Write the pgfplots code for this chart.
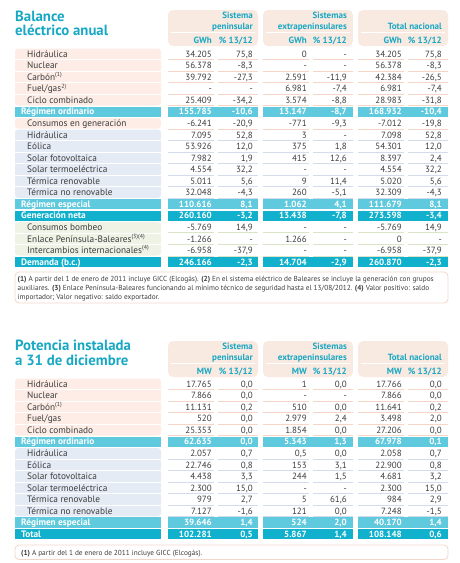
\documentclass[border=0pt]{standalone}
\usepackage{pgfplots}
\pgfplotsset{compat=1.18}
\usepackage{fontspec}
\setmainfont{PT Sans}
\definecolor{teal}{RGB}{24,168,196}
\definecolor{lightband}{RGB}{95,201,222}
\definecolor{darkband}{RGB}{17,177,205}
\definecolor{hdrbg}{RGB}{248,233,225}
\definecolor{pinkbg}{RGB}{253,237,230}
\definecolor{bluebg}{RGB}{229,235,245}
\definecolor{greenbg}{RGB}{239,243,230}
\definecolor{pinkln}{RGB}{246,212,198}
\definecolor{blueln}{RGB}{210,220,236}
\definecolor{greenln}{RGB}{218,228,198}
\definecolor{txt}{RGB}{60,60,60}
\definecolor{fnbd}{RGB}{242,214,200}
\newcommand{\fs}{\fontsize{9}{10.8}\selectfont}
\newcommand{\fl}{\fontsize{9.3}{11}\selectfont}
\newcommand{\supr}[1]{\textsuperscript{\fontsize{6}{6}\selectfont #1}}
\tikzset{
 lab/.style={anchor=base west, inner sep=0, font=\fl, text=txt},
 num/.style={anchor=base east, inner sep=0, font=\fs, text=txt},
 blab/.style={anchor=base west, inner sep=0, font=\fl\bfseries, text=white},
 bnum/.style={anchor=base east, inner sep=0, font=\fs\bfseries, text=white},
 hd/.style={anchor=base east, inner sep=0, font=\fs\bfseries, text=teal},
 ttl/.style={anchor=base west, inner sep=0, font=\fontsize{14.8}{15}\selectfont\bfseries, text=teal},
 fn/.style={anchor=base west, inner sep=0, font=\fontsize{7.3}{8}\selectfont, text=txt},
}
% data row: y, label, six values, line colour
\newcommand{\drow}[9]{%
 \draw[#9, line width=0.8pt] (168,#1+5.6) -- (214,#1+5.6) (218,#1+5.6) -- (258,#1+5.6)
   (263,#1+5.6) -- (309,#1+5.6) (313,#1+5.6) -- (353,#1+5.6)
   (358,#1+5.6) -- (404,#1+5.6) (408,#1+5.6) -- (448,#1+5.6);
 \node[lab] at (27,#1+3.2) {#2};
 \node[num] at (212,#1+3.2) {#3};
 \node[num] at (253,#1+3.2) {#4};
 \node[num] at (307,#1+3.2) {#5};
 \node[num] at (347,#1+3.2) {#6};
 \node[num] at (402,#1+3.2) {#7};
 \node[num] at (442,#1+3.2) {#8};
}
% band row: y, label, six values, fill colour
\newcommand{\brow}[9]{%
 \fill[#9] (15,#1-5.2) rectangle (161,#1+5.2);
 \fill[#9] (168,#1-5.2) rectangle (258,#1+5.2);
 \fill[#9] (263,#1-5.2) rectangle (353,#1+5.2);
 \fill[#9] (358,#1-5.2) rectangle (448,#1+5.2);
 \node[blab] at (21,#1+3.2) {#2};
 \node[bnum] at (212,#1+3.2) {#3};
 \node[bnum] at (253,#1+3.2) {#4};
 \node[bnum] at (307,#1+3.2) {#5};
 \node[bnum] at (347,#1+3.2) {#6};
 \node[bnum] at (402,#1+3.2) {#7};
 \node[bnum] at (442,#1+3.2) {#8};
}
% header: top y, unit
\newcommand{\hdr}[2]{%
 \fill[hdrbg, rounded corners=5pt] (168,#1) rectangle (258,#1+36);
 \fill[hdrbg, rounded corners=5pt] (263,#1) rectangle (353,#1+36);
 \fill[hdrbg, rounded corners=5pt] (358,#1) rectangle (448,#1+36);
 \draw[white, line width=0.8pt] (171,#1+22.5) -- (255,#1+22.5) (266,#1+22.5) -- (350,#1+22.5) (361,#1+22.5) -- (445,#1+22.5);
 \node[hd] at (253,#1+8.9) {Sistema};
 \node[hd] at (253,#1+19.2) {peninsular};
 \node[hd] at (347,#1+8.9) {Sistemas};
 \node[hd] at (347,#1+19.2) {extrapeninsulares};
 \node[hd] at (442,#1+19.2) {Total nacional};
 \node[hd] at (212,#1+33.7) {#2};
 \node[hd] at (253,#1+33.7) {\% 13/12};
 \node[hd] at (307,#1+33.7) {#2};
 \node[hd] at (347,#1+33.7) {\% 13/12};
 \node[hd] at (402,#1+33.7) {#2};
 \node[hd] at (442,#1+33.7) {\% 13/12};
}
% left group background: first y, last y, colour
\newcommand{\grp}[3]{%
 \fill[#3, rounded corners=3pt] (15,#1-5.3) rectangle (161,#2+5.3);
}
\newcommand{\sep}[1]{\draw[white, line width=1pt] (15,#1+5.775) -- (161,#1+5.775);}
\begin{document}
\begin{tikzpicture}
\begin{axis}[scale only axis, width=460pt, height=563pt,
  xmin=0, xmax=460, ymin=0, ymax=563, y dir=reverse,
  hide axis, clip=false]
\addplot[draw=none] coordinates {(0,0) (460,563)};
% ---------------- Table 1 ----------------
\node[ttl] at (15,21) {Balance};
\node[ttl] at (15,35.3) {eléctrico anual};
\hdr{10}{GWh}
\grp{54}{100.2}{pinkbg}
\sep{54}\sep{65.55}\sep{77.1}\sep{88.65}
\grp{123.3}{123.3}{pinkbg}
\grp{134.85}{192.6}{bluebg}
\sep{134.85}\sep{146.4}\sep{157.95}\sep{169.5}\sep{181.05}
\grp{227.25}{250.35}{greenbg}
\sep{227.25}\sep{238.8}
\drow{54}{Hidráulica}{34.205}{75,8}{0}{-}{34.205}{75,8}{pinkln}
\drow{65.55}{Nuclear}{56.378}{-8,3}{-}{-}{56.378}{-8,3}{pinkln}
\drow{77.1}{Carbón\supr{(1)}}{39.792}{-27,3}{2.591}{-11,9}{42.384}{-26,5}{pinkln}
\drow{88.65}{Fuel/gas\supr{2)}}{-}{-}{6.981}{-7,4}{6.981}{-7,4}{pinkln}
\drow{100.2}{Ciclo combinado}{25.409}{-34,2}{3.574}{-8,8}{28.983}{-31,8}{pinkln}
\brow{111.75}{Régimen ordinario}{155.785}{-10,6}{13.147}{-8,7}{168.932}{-10,4}{lightband}
\drow{123.3}{Consumos en generación}{-6.241}{-20,9}{-771}{-9,3}{-7.012}{-19,8}{pinkln}
\drow{134.85}{Hidráulica}{7.095}{52,8}{3}{-}{7.098}{52,8}{blueln}
\drow{146.4}{Eólica}{53.926}{12,0}{375}{1,8}{54.301}{12,0}{blueln}
\drow{157.95}{Solar fotovoltaica}{7.982}{1,9}{415}{12,6}{8.397}{2,4}{blueln}
\drow{169.5}{Solar termoeléctrica}{4.554}{32,2}{-}{-}{4.554}{32,2}{blueln}
\drow{181.05}{Térmica renovable}{5.011}{5,6}{9}{11,4}{5.020}{5,6}{blueln}
\drow{192.6}{Térmica no renovable}{32.048}{-4,3}{260}{-5,1}{32.309}{-4,3}{blueln}
\brow{204.15}{Régimen especial}{110.616}{8,1}{1.062}{4,1}{111.679}{8,1}{lightband}
\brow{215.7}{Generación neta}{260.160}{-3,2}{13.438}{-7,8}{273.598}{-3,4}{darkband}
\drow{227.25}{Consumos bombeo}{-5.769}{14,9}{-}{-}{-5.769}{14,9}{greenln}
\drow{238.8}{Enlace Península-Baleares\supr{(3)(4)}}{-1.266}{-}{1.266}{-}{0}{-}{greenln}
\drow{250.35}{Intercambios internacionales\supr{(4)}}{-6.958}{-37,9}{-}{-}{-6.958}{-37,9}{greenln}
\brow{261.9}{Demanda (b.c.)}{246.166}{-2,3}{14.704}{-2,9}{260.870}{-2,3}{darkband}
\draw[fnbd, line width=0.8pt, rounded corners=4pt] (15,272) rectangle (448,303);
\node[fn] at (17.5,281.5) {\textbf{(1)} A partir del 1 de enero de 2011 incluye GICC (Elcogás). \textbf{(2)} En el sistema eléctrico de Baleares se incluye la generación con grupos};
\node[fn] at (17.5,290.5) {auxiliares. \textbf{(3)} Enlace Península-Baleares funcionando al mínimo técnico de seguridad hasta el 13/08/2012. \textbf{(4)} Valor positivo: saldo};
\node[fn] at (17.5,299.5) {importador; Valor negativo: saldo exportador.};
% ---------------- Table 2 ----------------
\node[ttl] at (15,350.7) {Potencia instalada};
\node[ttl] at (15,365.8) {a 31 de diciembre};
\hdr{341}{MW}
\grp{384}{430.2}{pinkbg}
\sep{384}\sep{395.55}\sep{407.1}\sep{418.65}
\grp{453.3}{511.05}{bluebg}
\sep{453.3}\sep{464.85}\sep{476.4}\sep{487.95}\sep{499.5}
\drow{384}{Hidráulica}{17.765}{0,0}{1}{0,0}{17.766}{0,0}{pinkln}
\drow{395.55}{Nuclear}{7.866}{0,0}{-}{-}{7.866}{0,0}{pinkln}
\drow{407.1}{Carbón\supr{(1)}}{11.131}{0,2}{510}{0,0}{11.641}{0,2}{pinkln}
\drow{418.65}{Fuel/gas}{520}{0,0}{2.979}{2,4}{3.498}{2,0}{pinkln}
\drow{430.2}{Ciclo combinado}{25.353}{0,0}{1.854}{0,0}{27.206}{0,0}{pinkln}
\brow{441.75}{Régimen ordinario}{62.635}{0,0}{5.343}{1,3}{67.978}{0,1}{lightband}
\drow{453.3}{Hidráulica}{2.057}{0,7}{0,5}{0,0}{2.058}{0,7}{blueln}
\drow{464.85}{Eólica}{22.746}{0,8}{153}{3,1}{22.900}{0,8}{blueln}
\drow{476.4}{Solar fotovoltaica}{4.438}{3,3}{244}{1,5}{4.681}{3,2}{blueln}
\drow{487.95}{Solar termoeléctrica}{2.300}{15,0}{-}{-}{2.300}{15,0}{blueln}
\drow{499.5}{Térmica renovable}{979}{2,7}{5}{61,6}{984}{2,9}{blueln}
\drow{511.05}{Térmica no renovable}{7.127}{-1,6}{121}{0,0}{7.248}{-1,5}{blueln}
\brow{522.6}{Régimen especial}{39.646}{1,4}{524}{2,0}{40.170}{1,4}{lightband}
\brow{534.15}{Total}{102.281}{0,5}{5.867}{1,4}{108.148}{0,6}{darkband}
\draw[fnbd, line width=0.8pt, rounded corners=4pt] (15,545) rectangle (448,559.5);
\node[fn] at (21,555) {\textbf{(1)} A partir del 1 de enero de 2011 incluye GICC (Elcogás).};
\coordinate (BL) at (0,563);
\coordinate (TR) at (460,0);
\end{axis}
\pgfresetboundingbox
\path (BL) rectangle (TR);
\end{tikzpicture}
\end{document}
